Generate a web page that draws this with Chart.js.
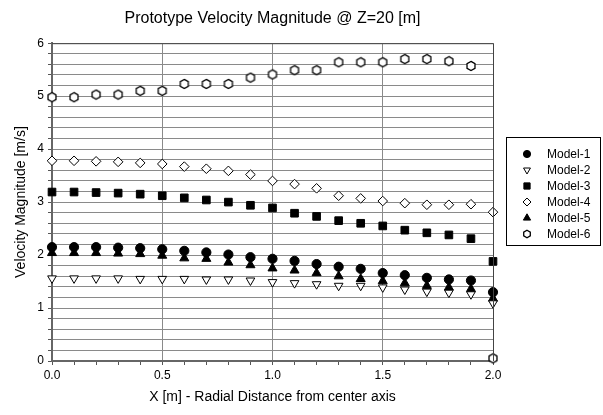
<!DOCTYPE html>
<html>
<head>
<meta charset="utf-8">
<script src="https://cdn.jsdelivr.net/npm/chart.js@4/dist/chart.umd.min.js"></script>
<style>
  html, body { margin: 0; padding: 0; background: #fff; }
  #wrap { width: 603px; height: 415px; position: relative; }
</style>
</head>
<body>
<div id="wrap"><canvas id="c" width="603" height="415"></canvas></div>
<script>
const xValues = [0.0,0.1,0.2,0.3,0.4,0.5,0.6,0.7,0.8,0.9,1.0,1.1,1.2,1.3,1.4,1.5,1.6,1.7,1.8,1.9,2.0];
const model1 = [2.15,2.15,2.15,2.14,2.13,2.11,2.08,2.05,2.01,1.96,1.93,1.89,1.83,1.78,1.74,1.66,1.62,1.57,1.54,1.52,1.30];
const model2 = [1.56,1.56,1.56,1.56,1.55,1.55,1.55,1.54,1.54,1.52,1.49,1.47,1.45,1.42,1.42,1.39,1.35,1.31,1.29,1.26,1.09];
const model3 = [3.19,3.19,3.18,3.17,3.15,3.12,3.08,3.04,3.00,2.94,2.89,2.79,2.73,2.65,2.60,2.55,2.47,2.42,2.38,2.31,1.88];
const model4 = [3.78,3.78,3.77,3.76,3.74,3.72,3.67,3.63,3.59,3.52,3.40,3.34,3.26,3.12,3.07,3.02,2.98,2.95,2.95,2.96,2.81];
const model5 = [2.04,2.04,2.04,2.03,2.02,1.99,1.94,1.93,1.86,1.81,1.75,1.71,1.66,1.60,1.55,1.51,1.47,1.42,1.39,1.36,1.18];
const model6 = [4.98,4.98,5.03,5.03,5.10,5.10,5.23,5.23,5.23,5.35,5.41,5.49,5.49,5.64,5.64,5.64,5.70,5.70,5.66,5.57,0.05];
const seriesNames = ['Model-1','Model-2','Model-3','Model-4','Model-5','Model-6'];
const yTickLabels = ['0','1','2','3','4','5','6'];
const xTickLabels = ['0.0','0.5','1.0','1.5','2.0'];

const FONT = "Arial, 'Liberation Sans', sans-serif";

function makeHex(r) {
  const s = 12;
  const cv = document.createElement('canvas');
  cv.width = s; cv.height = s;
  const g = cv.getContext('2d');
  const c = s / 2;
  g.beginPath();
  for (let i = 0; i < 6; i++) {
    const a = -Math.PI / 2 + i * Math.PI / 3;
    const px = c + r * Math.cos(a), py = c + r * Math.sin(a);
    if (i === 0) g.moveTo(px, py); else g.lineTo(px, py);
  }
  g.closePath();
  g.fillStyle = '#fff'; g.fill();
  g.strokeStyle = '#000'; g.lineWidth = 1.3; g.stroke();
  return cv;
}
const hexBig = makeHex(4.6);
const hexSmall = makeHex(3.8);

function pts(arr) { return xValues.map((x, i) => ({x: x, y: arr[i]})); }

const styles = [
  {pointStyle: 'circle', radius: 4.6, rotation: 0, bg: '#000', bd: '#000', lg: {pointStyle:'circle', radius:3.6, rotation:0}},
  {pointStyle: 'triangle', radius: 5, rotation: 180, bg: '#fff', bd: '#000', lg: {pointStyle:'triangle', radius:4, rotation:180}},
  {pointStyle: 'rect', radius: 5.4, rotation: 0, bg: '#000', bd: '#000', lg: {pointStyle:'rect', radius:4.4, rotation:0}},
  {pointStyle: 'rectRot', radius: 4.8, rotation: 0, bg: '#fff', bd: '#000', lg: {pointStyle:'rectRot', radius:4, rotation:0}},
  {pointStyle: 'triangle', radius: 5.2, rotation: 0, bg: '#000', bd: '#000', lg: {pointStyle:'triangle', radius:4.2, rotation:0}},
  {pointStyle: hexBig, radius: 5, rotation: 0, bg: '#fff', bd: '#000', lg: {pointStyle: hexSmall, radius:4, rotation:0}}
];
const allData = [model1, model2, model3, model4, model5, model6];

const datasets = allData.map((arr, i) => ({
  label: seriesNames[i],
  data: pts(arr),
  showLine: false,
  pointStyle: styles[i].pointStyle,
  pointRadius: styles[i].radius,
  pointHoverRadius: styles[i].radius,
  pointRotation: styles[i].rotation,
  backgroundColor: styles[i].bg,
  borderColor: styles[i].bd,
  borderWidth: 1,
  clip: false,
  order: i
}));

function near(v, step) { return Math.abs(v / step - Math.round(v / step)) < 1e-6; }

const framePlugin = {
  id: 'frame',
  afterDatasetsDraw(chart) {
    const {ctx, chartArea: a} = chart;
    ctx.save();
    ctx.strokeStyle = '#444';
    ctx.lineWidth = 1;
    ctx.beginPath();
    ctx.moveTo(a.left, a.top + 0.5);
    ctx.lineTo(a.right + 0.5, a.top + 0.5);
    ctx.lineTo(a.right + 0.5, a.bottom);
    ctx.stroke();
    ctx.restore();
  }
};

const legendPlugin = {
  id: 'boxLegend',
  afterDraw(chart) {
    const ctx = chart.ctx;
    const bx = 506.5, by = 137.5, bw = 94, bh = 108;
    ctx.save();
    ctx.fillStyle = '#fff';
    ctx.fillRect(bx, by, bw, bh);
    ctx.strokeStyle = '#000';
    ctx.lineWidth = 1;
    ctx.strokeRect(bx, by, bw, bh);
    ctx.font = '12px ' + FONT;
    ctx.textBaseline = 'middle';
    ctx.textAlign = 'left';
    chart.data.datasets.forEach((ds, i) => {
      const y = by + 16.5 + i * 16;
      const st = styles[i].lg;
      ctx.fillStyle = ds.backgroundColor;
      ctx.strokeStyle = ds.borderColor;
      ctx.lineWidth = 1;
      Chart.helpers.drawPoint(ctx, {pointStyle: st.pointStyle, radius: st.radius, rotation: st.rotation, borderWidth: 1}, 527, y);
      ctx.fillStyle = '#000';
      ctx.fillText(ds.label, 547, y + 0.5);
    });
    ctx.restore();
  }
};

new Chart(document.getElementById('c'), {
  type: 'scatter',
  data: { datasets: datasets },
  options: {
    responsive: false,
    animation: false,
    devicePixelRatio: 1,
    layout: { padding: { left: 0, right: 110, top: 0, bottom: 0 } },
    plugins: {
      legend: { display: false },
      tooltip: { enabled: false },
      title: {
        display: true,
        fullSize: false,
        text: 'Prototype Velocity Magnitude @ Z=20 [m]',
        color: '#000',
        font: { family: FONT, size: 16, weight: 'normal' },
        padding: { top: 9, bottom: 15 }
      }
    },
    scales: {
      x: {
        type: 'linear',
        min: 0, max: 2,
        afterFit(s) { s.height = 54; },
        ticks: {
          stepSize: 0.1,
          autoSkip: false,
          maxRotation: 0,
          color: '#000',
          padding: 3,
          font: { family: FONT, size: 12 },
          callback(v) {
            if (!near(v, 0.5)) return '';
            const idx = Math.round(v / 0.5);
            return xTickLabels[idx];
          }
        },
        grid: {
          color(ctx) { return ctx.tick && near(ctx.tick.value, 0.5) ? '#8a8a8a' : 'rgba(0,0,0,0)'; },
          borderDash: [2, 2],
          lineWidth: 1,
          tickColor: '#555',
          tickLength: 4,
          tickBorderDash: []
        },
        border: { display: true, color: '#666', width: 2 },
        title: {
          display: true,
          text: 'X [m] - Radial Distance from center axis',
          color: '#000',
          font: { family: FONT, size: 14 },
          padding: { top: 0, bottom: 9 }
        }
      },
      y: {
        type: 'linear',
        min: 0, max: 6,
        afterFit(s) { s.width = 52; },
        ticks: {
          stepSize: 0.2,
          autoSkip: false,
          color: '#000',
          padding: 4,
          font: { family: FONT, size: 12 },
          callback(v) {
            if (!near(v, 1)) return '';
            return yTickLabels[Math.round(v)];
          }
        },
        grid: {
          color() { return '#8a8a8a'; },
          borderDash: [2, 2],
          lineWidth: 1,
          tickColor: '#555',
          tickLength: 4,
          tickBorderDash: []
        },
        border: { display: true, color: '#666', width: 2 },
        title: {
          display: true,
          text: 'Velocity Magnitude [m/s]',
          color: '#000',
          font: { family: FONT, size: 14 },
          padding: { top: 13, bottom: 0 }
        }
      }
    }
  },
  plugins: [framePlugin, legendPlugin]
});
</script>
</body>
</html>
